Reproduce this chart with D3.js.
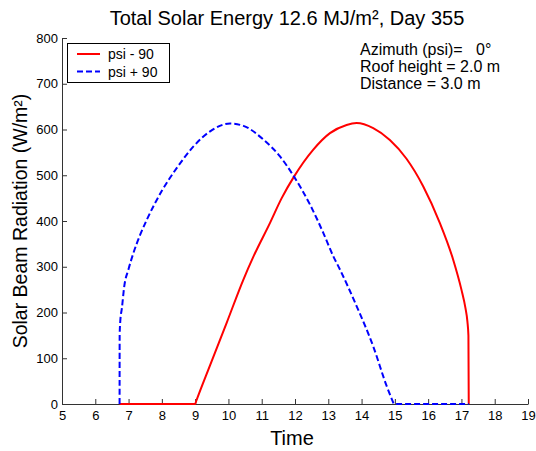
<!DOCTYPE html>
<html>
<head>
<meta charset="utf-8">
<script src="https://cdn.jsdelivr.net/npm/d3@7"></script>
<style>
  body { margin: 0; background: #fff; }
  text { font-family: "Liberation Sans", Arial, sans-serif; }
</style>
</head>
<body>
<div class="chart"></div>
<script>
// ---- data ----
var minusTime = [6.73, 9.0, 9.03, 9.45, 9.95, 10.45, 10.75, 11.25, 11.6, 11.97, 12.55, 13.05, 13.55, 13.85,
  14.35, 14.85, 15.35, 15.85, 16.35, 16.75, 17.0, 17.12, 17.18, 17.21, 17.22];
var minusValue = [0, 0, 6, 85, 178, 272, 322, 396, 450, 497, 556, 592, 610, 614,
  603, 577, 536, 476, 396, 316, 250, 210, 180, 150, 0];

var plusTime = [6.73, 6.732, 6.75, 6.8, 6.87, 7.0, 7.15, 7.35, 7.55, 8.0, 8.45, 8.95, 9.45, 10.05,
  10.45, 11.05, 11.55, 11.97, 12.45, 12.85, 13.15, 13.35, 13.85, 14.35, 14.75, 14.94, 14.97, 17.22];
var plusValue = [0, 150, 180, 210, 257, 295, 331, 370, 403, 466, 516, 563, 596, 613,
  608, 578, 541, 497, 436, 374, 323, 294, 214, 126, 40, 5, 0, 0];

var seriesNames = ["psi - 90", "psi + 90"];
var xTicks = d3.range(5, 20, 1);
var yTicks = d3.range(0, 900, 100);
var notes = ["Azimuth (psi)=   0\u00b0", "Roof height = 2.0 m", "Distance = 3.0 m"];

var W = 536, H = 451;
var margin = { top: 38, right: 8, bottom: 47, left: 62 };
var width = W - margin.left - margin.right;
var height = H - margin.top - margin.bottom;

var svg = d3.select(".chart").append("svg")
  .attr("width", W).attr("height", H);
var g = svg.append("g")
  .attr("transform", "translate(" + margin.left + "," + margin.top + ")");

var x = d3.scaleLinear().domain([5, 19]).range([0, width]);
var y = d3.scaleLinear().domain([0, 800]).range([height, 0]);

// axes (MATLAB style, ticks inward, no box)
var xAxis = g.append("g")
  .attr("transform", "translate(0," + height + ")")
  .call(d3.axisBottom(x).tickValues(xTicks).tickSizeInner(-5).tickSizeOuter(0).tickPadding(7));
var yAxis = g.append("g")
  .call(d3.axisLeft(y).tickValues(yTicks).tickSizeInner(-5).tickSizeOuter(0).tickPadding(4));
[xAxis, yAxis].forEach(function (a) {
  a.selectAll("path, line").attr("stroke", "#333");
  a.selectAll("text").style("font-size", "13px").attr("fill", "#000")
    .style("font-family", "Liberation Sans, Arial, sans-serif");
});

// lines (monotone so the flat zero parts stay flat)
var line = d3.line()
  .x(function (d) { return x(d[0]); })
  .y(function (d) { return y(d[1]); })
  .curve(d3.curveMonotoneX);

g.append("path")
  .datum(d3.zip(minusTime, minusValue))
  .attr("d", line)
  .attr("fill", "none").attr("stroke", "#ff0000").attr("stroke-width", 2);

g.append("path")
  .datum(d3.zip(plusTime, plusValue))
  .attr("d", line)
  .attr("fill", "none").attr("stroke", "#0000ff").attr("stroke-width", 2)
  .attr("stroke-dasharray", "6,3");

// title and labels
svg.append("text")
  .attr("x", 287).attr("y", 25)
  .attr("text-anchor", "middle")
  .style("font-size", "20px")
  .text("Total Solar Energy 12.6 MJ/m\u00b2, Day 355");

svg.append("text")
  .attr("x", 292).attr("y", 445)
  .attr("text-anchor", "middle")
  .style("font-size", "20px")
  .text("Time");

svg.append("text")
  .attr("transform", "translate(27," + (margin.top + height / 2) + ") rotate(-90)")
  .attr("text-anchor", "middle")
  .style("font-size", "19.5px")
  .text("Solar Beam Radiation (W/m\u00b2)");

// annotation
svg.selectAll(".note")
  .data(notes)
  .enter()
  .append("text")
  .attr("class", "note")
  .attr("x", 360)
  .attr("y", function (d, i) { return 54.5 + i * 17; })
  .style("font-size", "16px")
  .style("white-space", "pre")
  .attr("xml:space", "preserve")
  .text(function (d) { return d; });

// legend
var legend = svg.append("g");
legend.append("rect")
  .attr("x", 67.5).attr("y", 43.5).attr("width", 102).attr("height", 39)
  .attr("fill", "#fff").attr("stroke", "#000").attr("stroke-width", 1);
var colors = ["#ff0000", "#0000ff"];
var dashes = [null, "6,3"];
seriesNames.forEach(function (name, i) {
  var ly = 54 + i * 17.5;
  legend.append("line")
    .attr("x1", 77).attr("x2", 100).attr("y1", ly).attr("y2", ly)
    .attr("stroke", colors[i]).attr("stroke-width", 2)
    .attr("stroke-dasharray", dashes[i]);
  legend.append("text")
    .attr("x", 108).attr("y", ly + 5)
    .style("font-size", "14px")
    .text(name);
});
</script>
</body>
</html>
